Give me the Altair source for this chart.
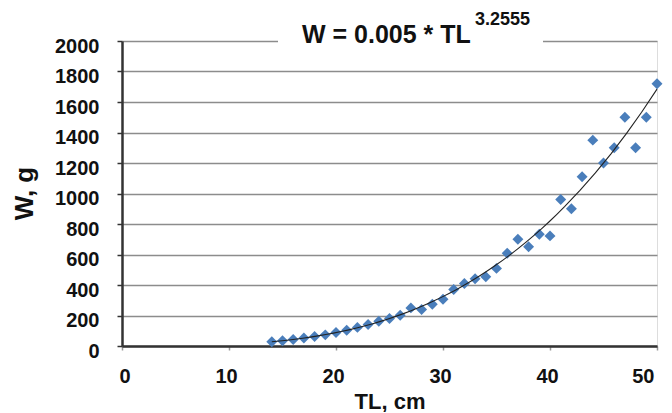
import altair as alt
import pandas as pd

# Total length (cm) and weight (g)
tl_values = [14, 15, 16, 17, 18, 19, 20, 21, 22, 23, 24, 25, 26, 27, 28, 29, 30, 31,
             32, 33, 34, 35, 36, 37, 38, 39, 40, 41, 42, 43, 44, 45, 46, 47, 48, 49, 50]
w_values = [28, 35, 43, 52, 62, 73, 88, 103, 122, 141, 162, 180, 202, 250, 239, 274, 307, 371,
            410, 441, 454, 509, 608, 700, 651, 733, 722, 960, 900, 1110, 1350, 1200, 1300, 1500, 1300, 1500, 1720]

x_ticks = [0, 10, 20, 30, 40, 50]
y_ticks = [0, 200, 400, 600, 800, 1000, 1200, 1400, 1600, 1800, 2000]

title_main = "W = 0.005 * TL"
title_exp = "3.2555"

df = pd.DataFrame({"TL": tl_values, "W": w_values})

FONT = "Liberation Sans"

x_scale = alt.Scale(domain=[0, 50], nice=False, zero=False)
y_scale = alt.Scale(domain=[0, 2000], nice=False)

x_axis = alt.Axis(values=x_ticks, title="TL, cm", grid=False, tickSize=4, tickColor="#999999",
                  tickWidth=1.5, domainColor="#333333", domainWidth=2.5, format="d",
                  labelFont=FONT, labelFontSize=20, labelFontWeight="bold", labelColor="#111111",
                  labelPadding=16, labelOffset=-3, labelOverlap=False,
                  titleFont=FONT, titleFontSize=22, titleFontWeight="bold", titleColor="#111111",
                  titleBaseline="alphabetic", titleY=62)
y_axis = alt.Axis(values=y_ticks, title="W, g", grid=True, gridColor="#8c8c8c", gridWidth=1.5,
                  tickSize=5, tickColor="#333333", tickWidth=1.5, format="d",
                  domainColor="#333333", domainWidth=2.5,
                  labelFont=FONT, labelFontSize=20, labelFontWeight="bold", labelColor="#111111",
                  labelPadding=18, labelOffset=5, labelOverlap=False,
                  titleFont=FONT, titleFontSize=26, titleFontWeight="bold", titleColor="#111111",
                  titleAngle=-90, titleBaseline="alphabetic", titleAlign="center",
                  titleX=-90, titleY=152)

base = alt.Chart(df)

points = base.mark_point(shape="diamond", filled=True, size=120, color="#4a7ebb", opacity=1).encode(
    x=alt.X("TL:Q", scale=x_scale, axis=x_axis),
    y=alt.Y("W:Q", scale=y_scale, axis=y_axis),
)

trend = base.transform_regression("TL", "W", method="pow", extent=[14, 50]).mark_line(
    color="#222222", strokeWidth=1.1
).encode(x=alt.X("TL:Q", scale=x_scale, axis=x_axis), y=alt.Y("W:Q", scale=y_scale, axis=y_axis))

title_df = pd.DataFrame({"main": [title_main], "exp": [title_exp]})

blank = alt.Chart(title_df).mark_rect(color="white").encode(
    x=alt.value(156), x2=alt.value(421), y=alt.value(-6), y2=alt.value(6)
)
t_main = alt.Chart(title_df).mark_text(
    font=FONT, fontSize=25, fontWeight="bold", color="#111111", align="left", baseline="alphabetic"
).encode(text="main:N", x=alt.value(180), y=alt.value(2))
t_exp = alt.Chart(title_df).mark_text(
    font=FONT, fontSize=18, fontWeight="bold", color="#111111", align="left", baseline="alphabetic"
).encode(text="exp:N", x=alt.value(353), y=alt.value(-16))

chart = alt.layer(points, trend, blank, t_main, t_exp).properties(
    width=535, height=305,
    autosize=alt.AutoSizeParams(type="none"),
    padding={"left": 114, "top": 33, "right": 7, "bottom": 66},
).configure_view(stroke=None).configure(background="white")

chart.save("out.html", embed_options={"renderer": "svg", "actions": False})
